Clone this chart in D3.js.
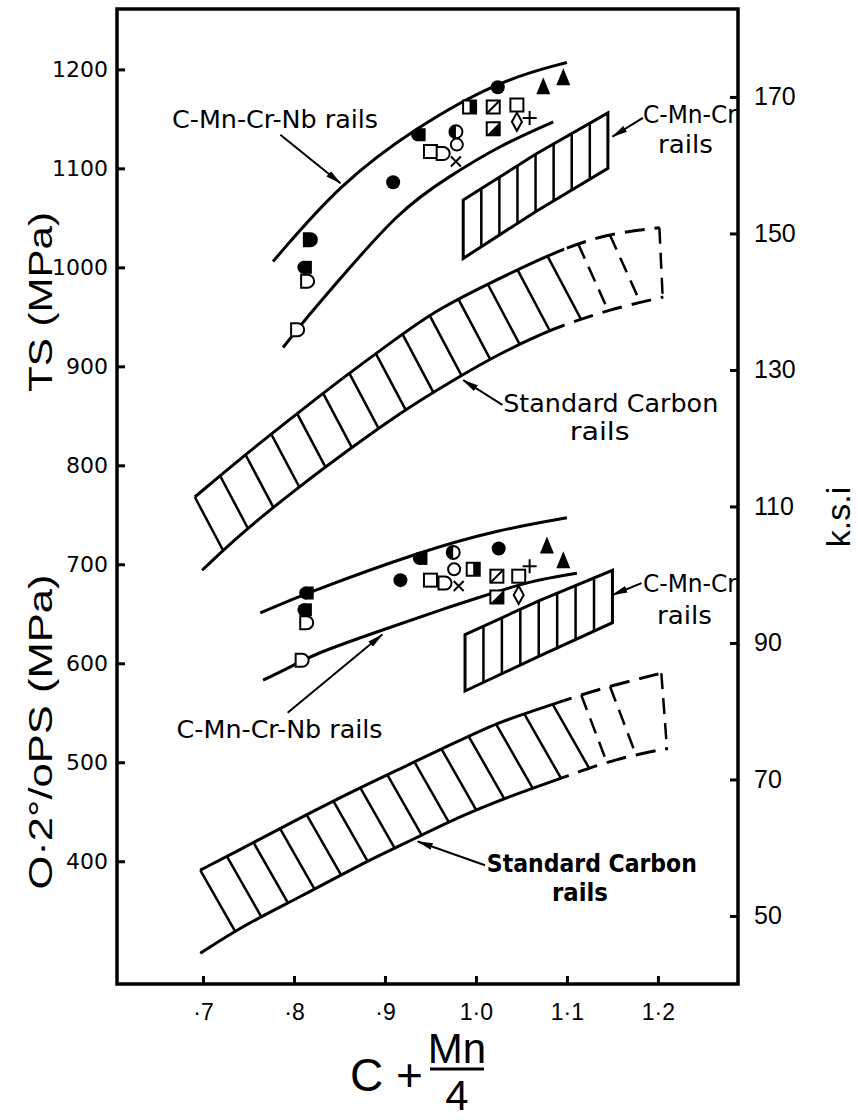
<!DOCTYPE html>
<html>
<head>
<meta charset="utf-8">
<script src="https://cdn.jsdelivr.net/npm/d3@7"></script>
<style>
  body { margin: 0; background: #fff; }
</style>
</head>
<body>
<script>
// axis ticks
var xTicks = [0.7, 0.8, 0.9, 1.0, 1.1, 1.2];
var xTickLabels = ['·7', '·8', '·9', '1·0', '1·1', '1·2'];
var mpaTicks = [400, 500, 600, 700, 800, 900, 1000, 1100, 1200];
var ksiTicks = [50, 70, 90, 110, 130, 150, 170];
var MPA_PER_KSI = 6.895;

// TS (MPa) - C-Mn-Cr-Nb rails envelope, [C+Mn/4, MPa]
var tsNbUpper = [[0.777, 1006], [0.851, 1085], [0.935, 1142], [1.026, 1189], [1.100, 1207]];
var tsNbLower = [[0.788, 919], [0.812, 947], [0.840, 977], [0.917, 1059], [0.971, 1092], [1.026, 1123], [1.085, 1147]];
// TS - C-Mn-Cr rails band
var tsCrX = [0.986, 1.065, 1.145];
var tsCrLo = [1009, 1056, 1100];
var tsCrHi = [1068, 1114, 1156];
// TS - standard carbon rails band (dashed beyond split)
var tsStdUpper = [[0.691, 768], [0.744, 809], [0.799, 849], [0.856, 890], [0.911, 927], [0.953, 955], [1.008, 981], [1.072, 1009], [1.098, 1019], [1.144, 1034], [1.202, 1040]];
var tsStdLower = [[0.699, 694], [0.744, 733], [0.805, 778], [0.862, 817], [0.918, 854], [0.975, 886], [1.026, 913], [1.078, 935], [1.092, 940], [1.144, 957], [1.206, 970]];
var tsStdSplit = 1.097;

// 0.2% PS (MPa)
var psNbUpper = [[0.763, 651], [0.814, 671], [0.939, 713], [1.026, 735], [1.100, 747]];
var psNbLower = [[0.766, 583], [0.798, 597], [0.821, 609], [0.898, 634], [0.971, 657], [1.012, 669], [1.059, 683], [1.111, 691]];
var psCrX = [0.988, 1.069, 1.150];
var psCrLo = [572, 607, 641];
var psCrHi = [629, 663, 694];
var psStdUpper = [[0.697, 391], [0.737, 410], [0.799, 440], [0.863, 470], [0.918, 494], [0.975, 519], [1.026, 541], [1.067, 553], [1.098, 563], [1.151, 578], [1.204, 590]];
var psStdLower = [[0.697, 307], [0.746, 336], [0.807, 364], [0.871, 396], [0.933, 423], [0.986, 447], [1.050, 470], [1.100, 486], [1.155, 504], [1.211, 514]];
var psStdSplit = 1.097;

// individual rails, [C+Mn/4, MPa, symbol]
var tsPoints = [
  [0.818, 1028, 'fD'], [0.812, 1000, 'fcs'], [0.815, 986, 'oD'], [0.804, 937, 'oD'],
  [0.909, 1086, 'fc'], [0.937, 1134, 'fcs'], [0.950, 1117, 'os'], [0.964, 1115, 'oD'],
  [0.978, 1137, 'hc'], [0.979, 1124, 'oc'], [0.978, 1107, 'x'], [0.993, 1162, 'hs'],
  [1.019, 1162, 'ds'], [1.019, 1140, 'dfs'], [1.024, 1182, 'fc'], [1.045, 1164, 'os'],
  [1.045, 1147, 'dm'], [1.059, 1151, 'p'], [1.074, 1182, 'ft'], [1.096, 1191, 'ft']
];
var psPoints = [
  [0.814, 671, 'fcs'], [0.812, 654, 'fcs'], [0.814, 641, 'oD'], [0.809, 603, 'oD'],
  [0.917, 684, 'fc'], [0.939, 706, 'fcs'], [0.950, 684, 'os'], [0.966, 681, 'oD'],
  [0.975, 712, 'hc'], [0.976, 695, 'oc'], [0.981, 678, 'x'], [0.997, 695, 'hs'],
  [1.025, 716, 'fc'], [1.023, 688, 'ds'], [1.023, 667, 'dfs'], [1.047, 688, 'os'],
  [1.047, 669, 'dm'], [1.059, 698, 'p'], [1.078, 718, 'ft'], [1.096, 703, 'ft']
];

var W = 858, H = 1120;
var padL = 117, padR = 738, padT = 9, padB = 984;

var svg = d3.select('body').append('svg')
    .attr('width', W)
    .attr('height', H)
    .style('background', '#fff');

var x = d3.scaleLinear().domain([0.6055, 1.288]).range([padL, padR]);
var y = d3.scaleLinear().domain([276, 1261]).range([padB, padT]);
var yK = d3.scaleLinear().domain([276 / MPA_PER_KSI, 1261 / MPA_PER_KSI]).range([padB, padT]);

var line = d3.line()
    .curve(d3.curveBasis)
    .x(function(d) { return x(d[0]); })
    .y(function(d) { return y(d[1]); });

var defs = svg.append('defs');
defs.append('marker')
    .attr('id', 'ah')
    .attr('viewBox', '0 0 16 7')
    .attr('refX', 15).attr('refY', 3.5)
    .attr('markerWidth', 16).attr('markerHeight', 7)
    .attr('markerUnits', 'userSpaceOnUse')
    .attr('orient', 'auto')
  .append('path')
    .attr('d', 'M0,0 L16,3.5 L0,7 Z')
    .attr('fill', '#000');

function addClip(id, x0, x1) {
  defs.append('clipPath').attr('id', id)
    .append('rect').attr('x', x0).attr('y', 0).attr('width', x1 - x0).attr('height', H);
}

// dense samples of a drawn curve, used to hang the hatching on it
function sample(pts) {
  var p = svg.append('path').attr('d', line(pts)).attr('fill', 'none');
  var node = p.node(), len = node.getTotalLength(), out = [];
  for (var s = 0; s <= len; s += 1) {
    var q = node.getPointAtLength(s);
    out.push({ x: q.x, y: q.y });
  }
  p.remove();
  return out;
}

function yAt(D, px) {
  if (px <= D[0].x) return D[0].y;
  for (var i = 1; i < D.length; i++) {
    if (D[i].x >= px) {
      var a = D[i - 1], b = D[i];
      var t = (px - a.x) / ((b.x - a.x) || 1);
      return a.y + t * (b.y - a.y);
    }
  }
  return D[D.length - 1].y;
}

var plot = svg.append('g');

function stdBand(upper, lower, split, id, step, first, k, kDash) {
  var xs = x(split);
  addClip(id + 's', 0, xs);
  addClip(id + 'd', xs, W);
  [upper, lower].forEach(function(pts) {
    plot.append('path').attr('d', line(pts))
        .attr('fill', 'none').attr('stroke', '#000').attr('stroke-width', 3)
        .attr('clip-path', 'url(#' + id + 's)');
    plot.append('path').attr('d', line(pts))
        .attr('fill', 'none').attr('stroke', '#000').attr('stroke-width', 3)
        .attr('stroke-dasharray', '20,10')
        .attr('clip-path', 'url(#' + id + 'd)');
  });

  var U = sample(upper), L = sample(lower);
  var lmax = L[L.length - 1].x;
  for (var s = first; s < U.length; s += step) {
    var pu = U[Math.round(s)];
    var dashed = pu.x > xs;
    var kk = dashed ? kDash : k;
    var xl = pu.x;
    for (var it = 0; it < 10; it++) xl = pu.x + kk * (yAt(L, xl) - pu.y);
    if (xl > lmax - 4) break;
    plot.append('line')
        .attr('x1', pu.x).attr('y1', pu.y)
        .attr('x2', xl).attr('y2', yAt(L, xl))
        .attr('stroke', '#000').attr('stroke-width', 2.5)
        .attr('stroke-dasharray', dashed ? '16,9' : null);
  }
  // open right end
  var ue = U[U.length - 1], le = L[L.length - 1];
  plot.append('line')
      .attr('x1', ue.x).attr('y1', ue.y).attr('x2', le.x).attr('y2', le.y)
      .attr('stroke', '#000').attr('stroke-width', 2.5)
      .attr('stroke-dasharray', '16,9');
}

function crBand(xsArr, lo, hi, cells) {
  var fLo = d3.scaleLinear().domain(xsArr).range(lo);
  var fHi = d3.scaleLinear().domain(xsArr).range(hi);
  var pts = xsArr.map(function(v, i) { return [x(v), y(hi[i])]; })
      .concat(xsArr.slice().reverse().map(function(v, i) { return [x(v), y(lo[xsArr.length - 1 - i])]; }));
  plot.append('path')
      .attr('d', 'M' + pts.join('L') + 'Z')
      .attr('fill', 'none').attr('stroke', '#000').attr('stroke-width', 3)
      .attr('stroke-linejoin', 'miter');
  var x0 = xsArr[0], x1 = xsArr[xsArr.length - 1];
  for (var i = 1; i < cells; i++) {
    var v = x0 + i * (x1 - x0) / cells;
    plot.append('line')
        .attr('x1', x(v)).attr('x2', x(v))
        .attr('y1', y(fLo(v))).attr('y2', y(fHi(v)))
        .attr('stroke', '#000').attr('stroke-width', 2.5);
  }
}

function nbLine(pts) {
  plot.append('path').attr('d', line(pts))
      .attr('fill', 'none').attr('stroke', '#000').attr('stroke-width', 3);
}

stdBand(tsStdUpper, tsStdLower, tsStdSplit, 'ts', 33, 0, 0.53, 0.45);
stdBand(psStdUpper, psStdLower, psStdSplit, 'ps', 30, 0, 0.57, 0.38);
crBand(tsCrX, tsCrLo, tsCrHi, 8);
crBand(psCrX, psCrLo, psCrHi, 8);
nbLine(tsNbUpper);
nbLine(tsNbLower);
nbLine(psNbUpper);
nbLine(psNbLower);

// symbols for the individual rails
function drawSym(g, t) {
  var h = 6.5;
  var sq = function(fill) {
    return g.append('rect').attr('x', -h).attr('y', -h).attr('width', 2 * h).attr('height', 2 * h)
        .attr('fill', fill).attr('stroke', '#000').attr('stroke-width', 2);
  };
  if (t == 'fc') g.append('circle').attr('r', 7).attr('fill', '#000');
  else if (t == 'oc') g.append('circle').attr('r', 6).attr('fill', '#fff').attr('stroke', '#000').attr('stroke-width', 2);
  else if (t == 'hc') {
    g.append('circle').attr('r', 6.5).attr('fill', '#fff').attr('stroke', '#000').attr('stroke-width', 2);
    g.append('path').attr('d', 'M0,-6.5 A6.5,6.5 0 0 0 0,6.5 Z').attr('fill', '#000');
  }
  else if (t == 'os') sq('#fff');
  else if (t == 'hs') {
    sq('#fff');
    g.append('rect').attr('x', 0).attr('y', -h).attr('width', h).attr('height', 2 * h).attr('fill', '#000');
  }
  else if (t == 'ds') {
    sq('#fff');
    g.append('line').attr('x1', -h).attr('y1', h).attr('x2', h).attr('y2', -h).attr('stroke', '#000').attr('stroke-width', 2);
  }
  else if (t == 'dfs') {
    sq('#fff');
    g.append('path').attr('d', 'M' + h + ',' + (-h) + 'L' + h + ',' + h + 'L' + (-h) + ',' + h + 'Z').attr('fill', '#000');
  }
  else if (t == 'oD' || t == 'fD') {
    var f = t == 'fD' ? '#000' : '#fff';
    g.append('path').attr('d', 'M-6.5,-6.5 H0 A6.5,6.5 0 0 1 0,6.5 H-6.5 Z')
        .attr('fill', f).attr('stroke', '#000').attr('stroke-width', 2);
  }
  else if (t == 'fcs') {
    g.append('rect').attr('x', -2).attr('y', -6.5).attr('width', 9).attr('height', 13).attr('fill', '#000');
    g.append('circle').attr('cx', -1).attr('r', 6.5).attr('fill', '#000');
  }
  else if (t == 'dm') g.append('path').attr('d', 'M0,-9 L5,0 L0,9 L-5,0 Z')
      .attr('fill', '#fff').attr('stroke', '#000').attr('stroke-width', 2);
  else if (t == 'p') g.append('path').attr('d', 'M-7,0 H7 M0,-7 V7').attr('stroke', '#000').attr('stroke-width', 2);
  else if (t == 'x') g.append('path').attr('d', 'M-5,-5 L5,5 M-5,5 L5,-5').attr('stroke', '#000').attr('stroke-width', 2);
  else if (t == 'ft') g.append('path').attr('d', 'M0,-10 L7,7 L-7,7 Z').attr('fill', '#000');
}

tsPoints.concat(psPoints).forEach(function(d) {
  var g = plot.append('g').attr('transform', 'translate(' + x(d[0]) + ',' + y(d[1]) + ')');
  drawSym(g, d[2]);
});

// frame and axes
svg.append('rect')
    .attr('x', padL).attr('y', padT)
    .attr('width', padR - padL).attr('height', padB - padT)
    .attr('fill', 'none').attr('stroke', '#000').attr('stroke-width', 3.5);

function styleAxis(g, font, size) {
  g.select('.domain').remove();
  g.selectAll('.tick line').attr('stroke', '#000').attr('stroke-width', 3);
  g.selectAll('.tick text').attr('fill', '#000')
      .style('font-family', font).style('font-size', size + 'px');
}

svg.append('g')
    .attr('transform', 'translate(' + padL + ',0)')
    .call(d3.axisLeft(y).tickValues(mpaTicks).tickFormat(d3.format('d')).tickSize(-8).tickPadding(9))
    .call(function(g) { styleAxis(g, 'DejaVu Sans', 22); });

svg.append('g')
    .attr('transform', 'translate(' + padR + ',0)')
    .call(d3.axisRight(yK).tickValues(ksiTicks).tickFormat(d3.format('d')).tickSize(-8).tickPadding(16))
    .call(function(g) { styleAxis(g, 'Liberation Sans', 25); });

svg.append('g')
    .attr('transform', 'translate(0,' + padB + ')')
    .call(d3.axisBottom(x).tickValues(xTicks)
      .tickFormat(function(d, i) { return xTickLabels[i]; })
      .tickSize(-8).tickPadding(20))
    .call(function(g) { styleAxis(g, 'Liberation Sans', 23); });

// axis titles
svg.append('text')
    .attr('transform', 'translate(52,302) rotate(-90)')
    .attr('text-anchor', 'middle')
    .attr('textLength', 180).attr('lengthAdjust', 'spacingAndGlyphs')
    .style('font-family', 'Liberation Sans').style('font-size', '34px')
    .text('TS (MPa)');

svg.append('text')
    .attr('transform', 'translate(52,732) rotate(-90)')
    .attr('text-anchor', 'middle')
    .attr('textLength', 315).attr('lengthAdjust', 'spacingAndGlyphs')
    .style('font-family', 'Liberation Sans').style('font-size', '34px')
    .text('O·2°/oPS (MPa)');

svg.append('text')
    .attr('transform', 'translate(850,517) rotate(-90)')
    .attr('text-anchor', 'middle')
    .style('font-family', 'Liberation Sans').style('font-size', '34px')
    .text('k.s.i');

var xt = svg.append('g').style('font-family', 'Liberation Sans').attr('fill', '#000');
xt.append('text').attr('x', 350).attr('y', 1091).style('font-size', '46px').text('C +');
xt.append('text').attr('x', 457).attr('y', 1063).attr('text-anchor', 'middle').style('font-size', '42px').text('Mn');
xt.append('line').attr('x1', 430).attr('x2', 484).attr('y1', 1069).attr('y2', 1069)
    .attr('stroke', '#000').attr('stroke-width', 3);
xt.append('text').attr('x', 457).attr('y', 1110).attr('text-anchor', 'middle').style('font-size', '42px').text('4');

// annotations: text at [v, MPa], width in px, arrow from/to [v, MPa]
var notes = [
  { lines: [['C-Mn-Cr-Nb rails', 0.666, 1141, 206]], from: [0.785, 1134], to: [0.851, 1085] },
  { lines: [['C-Mn-Cr', 1.1835, 1146, 94], ['rails', 1.200, 1116, 55]], from: [1.1835, 1151], to: [1.150, 1132] },
  { lines: [['Standard  Carbon', 1.030, 854, 215], ['rails', 1.103, 826, 60]], from: [1.029, 861], to: [0.986, 886] },
  { lines: [['C-Mn-Cr', 1.1835, 672, 94], ['rails', 1.199, 640, 55]], from: [1.182, 681], to: [1.150, 669] },
  { lines: [['C-Mn-Cr-Nb  rails', 0.671, 525, 206]], from: [0.793, 550], to: [0.897, 629] },
  { lines: [['Standard Carbon', 1.012, 389, 210], ['rails', 1.0835, 360, 56]], from: [1.010, 396], to: [0.936, 420], bold: true }
];

notes.forEach(function(n) {
  n.lines.forEach(function(l) {
    svg.append('text')
        .attr('x', x(l[1])).attr('y', y(l[2]))
        .attr('textLength', l[3]).attr('lengthAdjust', 'spacingAndGlyphs')
        .style('font-family', 'DejaVu Sans Condensed, DejaVu Sans')
        .style('font-size', '24px')
        .style('font-weight', n.bold ? 'bold' : 'normal')
        .text(l[0]);
  });
  svg.append('line')
      .attr('x1', x(n.from[0])).attr('y1', y(n.from[1]))
      .attr('x2', x(n.to[0])).attr('y2', y(n.to[1]))
      .attr('stroke', '#000').attr('stroke-width', 2)
      .attr('marker-end', 'url(#ah)');
});
</script>
</body>
</html>
